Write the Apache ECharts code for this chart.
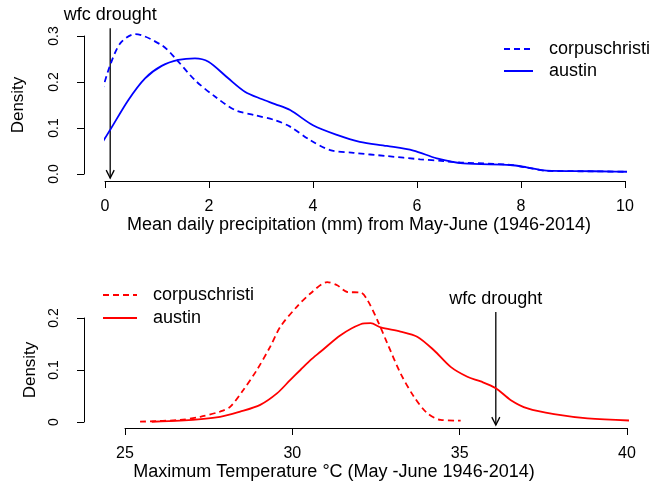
<!DOCTYPE html>
<html>
<head>
<meta charset="utf-8">
<script src="https://cdn.jsdelivr.net/npm/echarts@6/dist/echarts.min.js"></script>
<style>html,body{margin:0;padding:0;background:#fff}#c{width:652px;height:485px}</style>
</head>
<body>
<div id="c"></div>
<script>
// ---- Top panel: precipitation densities ----
const precipAustinX = [-0.06, 0.1, 0.45, 0.77, 1.09, 1.41, 1.73, 1.99, 2.37, 2.69, 3.01, 3.27, 3.56, 4.0, 4.46, 4.9, 5.42, 5.93, 6.38, 6.89, 7.79, 8.11, 8.49, 9.4, 10.38];
const precipAustinY = [0.067, 0.096, 0.161, 0.208, 0.235, 0.248, 0.2515, 0.244, 0.208, 0.179, 0.163, 0.152, 0.139, 0.106, 0.085, 0.070, 0.061, 0.051, 0.034, 0.023, 0.0196, 0.0145, 0.0072, 0.006, 0.0043];
const precipCorpusX = [-0.06, 0.1, 0.3, 0.58, 1.09, 1.35, 1.73, 2.12, 2.5, 2.88, 3.27, 3.56, 3.94, 4.33, 4.78, 5.42, 6.06, 6.51, 6.83, 7.79, 8.11, 8.49, 9.4, 10.38];
const precipCorpusY = [0.179, 0.237, 0.285, 0.304, 0.28, 0.252, 0.204, 0.168, 0.139, 0.128, 0.117, 0.103, 0.074, 0.052, 0.046, 0.039, 0.032, 0.028, 0.025, 0.02, 0.014, 0.007, 0.0058, 0.0042];
const precipDrought = [0.1, 0.317, -0.009];   // x, arrow top, arrow tip
const precipTicksX = [0, 2, 4, 6, 8, 10];
const precipTicksY = ['0.0', '0.1', '0.2', '0.3'];

// ---- Bottom panel: max temperature densities ----
const tempCorpusX = [25.45, 26.65, 27.25, 27.84, 28.14, 28.54, 28.94, 29.34, 29.64, 30.14, 30.54, 31.04, 31.34, 31.64, 32.04, 32.24, 32.54, 32.84, 33.23, 33.63, 34.03, 34.43, 35.03];
const tempCorpusY = [0.0006, 0.004, 0.010, 0.020, 0.029, 0.062, 0.100, 0.145, 0.183, 0.222, 0.247, 0.269, 0.263, 0.250, 0.249, 0.235, 0.196, 0.151, 0.094, 0.049, 0.017, 0.004, 0.0025];
const tempAustinX = [25.8, 26.65, 27.84, 28.44, 29.04, 29.54, 29.94, 30.24, 30.54, 30.84, 31.44, 32.04, 32.34, 32.64, 33.23, 33.73, 34.23, 34.73, 35.23, 35.63, 36.08, 36.53, 37.03, 37.82, 38.82, 40.4];
const tempAustinY = [0.0005, 0.0025, 0.010, 0.020, 0.033, 0.055, 0.081, 0.100, 0.119, 0.135, 0.167, 0.188, 0.190, 0.182, 0.174, 0.164, 0.138, 0.106, 0.087, 0.078, 0.065, 0.042, 0.026, 0.015, 0.007, 0.002];
const tempDrought = [36.08, 0.2115, -0.006];
const tempTicksX = [25, 30, 35, 40];
const tempTicksY = ['0', '0.1', '0.2'];

const seriesNames = ['corpuschristi', 'austin'];
const labelTexts = {
  precipX: 'Mean daily precipitation (mm) from May-June (1946-2014)',
  tempX: 'Maximum Temperature \u00B0C (May -June 1946-2014)',
  yName: 'Density',
  drought: 'wfc drought'
};

const FONT = 'Liberation Sans';
const zip = (xs, ys) => xs.map((x, i) => [x, ys[i]]);
const BLUE = '#0000FF', RED = '#FF0000';

function axisX(gridIndex, ticks, name, offset, namePadRight) {
  return {
    type: 'value', gridIndex,
    min: ticks[0], max: ticks[ticks.length - 1], interval: ticks[1] - ticks[0],
    offset,
    axisLine: { show: true, onZero: false, lineStyle: { color: '#000', width: 1 } },
    axisTick: { show: true, length: 7, lineStyle: { color: '#000' } },
    axisLabel: { color: '#000', fontFamily: FONT, fontSize: 16, margin: 18 },
    splitLine: { show: false },
    name, nameLocation: 'middle', nameGap: 34,
    nameTextStyle: { color: '#000', fontFamily: FONT, fontSize: 18, padding: [0, namePadRight, 0, 0] }
  };
}
function axisY(gridIndex, ticks, offset, nameGap) {
  const nums = ticks.map(Number);
  return {
    type: 'value', gridIndex,
    min: nums[0], max: nums[nums.length - 1], interval: nums[1] - nums[0],
    offset,
    axisLine: { show: true, onZero: false, lineStyle: { color: '#000', width: 1 } },
    axisTick: { show: true, length: 7, lineStyle: { color: '#000' } },
    axisLabel: {
      color: '#000', fontFamily: FONT, fontSize: 14, rotate: 90, margin: 23,
      formatter: v => { const i = nums.findIndex(n => Math.abs(n - v) < 1e-9); return i >= 0 ? ticks[i] : ''; }
    },
    splitLine: { show: false },
    name: labelTexts.yName, nameLocation: 'middle', nameRotate: 90, nameGap,
    nameTextStyle: { color: '#000', fontFamily: FONT, fontSize: 17 }
  };
}
function lineSeries(name, xi, data, color, dashed) {
  return {
    type: 'line', name, xAxisIndex: xi, yAxisIndex: xi, data,
    smooth: 0.3, symbol: 'none', clip: false, silent: true,
    lineStyle: { color, width: 1.8, type: dashed ? [6, 4] : 'solid' },
    itemStyle: { color }
  };
}
function droughtSeries(xi, arr) {
  return {
    type: 'custom', name: 'drought' + xi, xAxisIndex: xi, yAxisIndex: xi, silent: true, clip: false,
    data: [arr],
    renderItem: (params, api) => {
      const x = api.value(0);
      const top = api.coord([x, api.value(1)]);
      const tip = api.coord([x, api.value(2)]);
      return {
        type: 'group', children: [
          { type: 'line', shape: { x1: top[0], y1: top[1], x2: tip[0], y2: tip[1] }, style: { stroke: '#000', lineWidth: 1.3 } },
          { type: 'polyline', shape: { points: [[tip[0] - 4, tip[1] - 8], [tip[0], tip[1]], [tip[0] + 4, tip[1] - 8]] }, style: { stroke: '#000', fill: null, lineWidth: 1.3 } },
          { type: 'text', style: { text: labelTexts.drought, x: top[0], y: top[1] - 13, align: 'center', verticalAlign: 'middle', font: '18px "' + FONT + '"', fill: '#000' } }
        ]
      };
    }
  };
}
function legendCfg(prefix, left, top, itemWidth, itemGap) {
  return {
    orient: 'vertical', left, top, padding: 0, itemWidth, itemHeight: 14, itemGap,
    data: [prefix + seriesNames[0], prefix + seriesNames[1]],
    formatter: n => n.slice(prefix.length),
    itemStyle: { opacity: 0 },
    textStyle: { color: '#000', fontFamily: FONT, fontSize: 18, lineHeight: 14, padding: [0, 0, 0, 11] },
    selectedMode: false
  };
}

const chart = echarts.init(document.getElementById('c'), null, { renderer: 'canvas' });
chart.setOption({
  backgroundColor: '#fff',
  animation: false,
  grid: [
    { left: 105, top: 36, width: 520, height: 138 },
    { left: 125, top: 318, width: 502, height: 104 }
  ],
  xAxis: [
    axisX(0, precipTicksX, labelTexts.precipX, 7, 12),
    axisX(1, tempTicksX, labelTexts.tempX, 6, 84)
  ],
  yAxis: [
    axisY(0, precipTicksY, 21, 57),
    axisY(1, tempTicksY, 41, 45)
  ],
  legend: [
    legendCfg('P ', 503, 40, 29, 4),
    legendCfg('T ', 102, 286, 34, 5)
  ],
  series: [
    lineSeries('P ' + seriesNames[0], 0, zip(precipCorpusX, precipCorpusY), BLUE, true),
    lineSeries('P ' + seriesNames[1], 0, zip(precipAustinX, precipAustinY), BLUE, false),
    lineSeries('T ' + seriesNames[0], 1, zip(tempCorpusX, tempCorpusY), RED, true),
    lineSeries('T ' + seriesNames[1], 1, zip(tempAustinX, tempAustinY), RED, false),
    droughtSeries(0, precipDrought),
    droughtSeries(1, tempDrought)
  ]
});
</script>
</body>
</html>
